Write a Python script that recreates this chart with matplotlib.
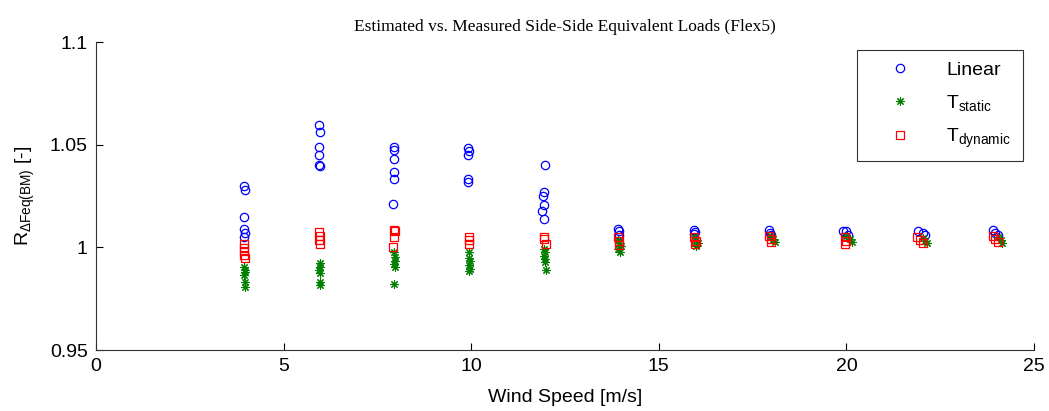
import numpy as np
import matplotlib
matplotlib.use('Agg')
import matplotlib.pyplot as plt

plt.rcParams['font.family'] = 'Liberation Sans'
plt.rcParams['mathtext.fontset'] = 'custom'
plt.rcParams['mathtext.rm'] = 'Liberation Sans'
plt.rcParams['mathtext.it'] = 'Liberation Sans'
plt.rcParams['mathtext.bf'] = 'Liberation Sans:bold'

# Linear estimate
lin_ws = [3.95, 3.97, 3.95, 3.95, 3.96, 3.94,
          5.95, 5.96, 5.95, 5.95, 5.95, 5.96,
          7.93, 7.93, 7.93, 7.95, 7.95, 7.91,
          9.92, 9.93, 9.92, 9.92, 9.92,
          11.97, 11.93, 11.92, 11.93, 11.90, 11.94,
          13.92, 13.95, 13.93,
          15.95, 15.97, 15.93,
          17.93, 17.97, 18.0,
          19.9, 20.0, 20.05,
          21.9, 22.05, 22.1,
          23.92, 23.97, 24.05]
lin_r = [1.0297, 1.0277, 1.0146, 1.0088, 1.0068, 1.0049,
         1.0595, 1.0560, 1.0490, 1.0450, 1.0400, 1.0398,
         1.0490, 1.0475, 1.0430, 1.0365, 1.0335, 1.0210,
         1.0485, 1.0470, 1.0450, 1.0335, 1.0320,
         1.0400, 1.0268, 1.0248, 1.0204, 1.0175, 1.0140,
         1.0088, 1.0078, 1.0060,
         1.0085, 1.0075, 1.0065,
         1.0085, 1.0072, 1.0062,
         1.0082, 1.0078, 1.0062,
         1.0082, 1.0068, 1.0058,
         1.0083, 1.0072, 1.0062]

# T static
sta_ws = [3.95, 3.97, 3.96, 3.95, 3.97, 3.96,
          5.96, 5.97, 5.95, 5.96, 5.97, 5.96,
          7.95, 7.96, 7.97, 7.95, 7.98, 7.93,
          9.95, 9.93, 9.96, 9.94, 9.97, 9.95,
          11.95, 11.97, 11.94, 11.96, 11.98, 11.99,
          13.9, 13.95, 14.0, 13.92, 13.97,
          15.95, 16.0, 16.05, 15.98,
          18.0, 18.05, 18.1,
          20.0, 20.1, 20.15,
          22.05, 22.1, 22.15,
          24.05, 24.12, 24.15]
sta_r = [0.9905, 0.9892, 0.9880, 0.9865, 0.9830, 0.9805,
         0.9925, 0.9905, 0.9890, 0.9875, 0.9830, 0.9815,
         0.9975, 0.9955, 0.9935, 0.9920, 0.9905, 0.9820,
         0.9975, 0.9950, 0.9935, 0.9915, 0.9895, 0.9885,
         0.9990, 0.9975, 0.9960, 0.9945, 0.9930, 0.9890,
         1.0035, 1.0020, 1.0005, 0.9990, 0.9975,
         1.0050, 1.0035, 1.0020, 1.0005,
         1.0055, 1.0040, 1.0025,
         1.0055, 1.0040, 1.0025,
         1.0045, 1.0030, 1.0020,
         1.0050, 1.0035, 1.0020]

# T dynamic
dyn_ws = [3.94, 3.95, 3.94, 3.95, 3.96,
          5.95, 5.96, 5.95, 5.96,
          7.93, 7.96, 7.95, 7.92,
          9.93, 9.94, 9.93,
          11.93, 11.95, 11.99,
          13.92, 13.95, 13.93,
          15.95, 15.98, 15.96,
          17.95, 17.98, 18.0,
          19.95, 20.0, 19.97,
          21.88, 21.97, 22.05,
          23.92, 23.97, 24.03]
dyn_r = [1.0015, 0.9995, 0.9980, 0.9965, 0.9950,
         1.0075, 1.0055, 1.0035, 1.0015,
         1.0085, 1.0078, 1.0048, 1.0000,
         1.0050, 1.0035, 1.0015,
         1.0048, 1.0040, 1.0015,
         1.0050, 1.0030, 1.0010,
         1.0050, 1.0030, 1.0015,
         1.0055, 1.0040, 1.0025,
         1.0050, 1.0030, 1.0015,
         1.0050, 1.0035, 1.0020,
         1.0055, 1.0040, 1.0025]

fig = plt.figure(figsize=(10.49, 4.11), dpi=100)
ax = fig.add_axes([0.0915, 0.1484, 0.8942, 0.7494])

ax.plot(lin_ws, lin_r, 'o', ls='none', mfc='none', mec='b', ms=6, mew=0.9, label='Linear')
ax.plot(sta_ws, sta_r, ls='none', marker=(8, 2, 0), color='g', ms=6, mew=0.8, label='T$_{static}$')
ax.plot(dyn_ws, dyn_r, 's', ls='none', mfc='none', mec='r', ms=6, mew=0.9, label='T$_{dynamic}$')

ax.set_xlim(0, 25)
ax.set_ylim(0.95, 1.1)
ax.set_xticks([0, 5, 10, 15, 20, 25])
ax.set_yticks([0.95, 1.0, 1.05, 1.1])
ax.set_yticklabels(['0.95', '1', '1.05', '1.1'])
ax.tick_params(direction='in', length=5, width=0.8, labelsize=14, top=False, right=False, pad=6)
ax.spines['top'].set_visible(False)
ax.spines['right'].set_visible(False)
for s in ['left', 'bottom']:
    ax.spines[s].set_linewidth(0.8)
    ax.spines[s].set_color('#333333')

ax.set_xlabel('Wind Speed [m/s]', fontsize=14, labelpad=10)
ax.set_ylabel(r'R$_{\Delta \mathrm{Feq(BM)}}$ [-]', fontsize=14, labelpad=9)
ax.set_title('Estimated vs. Measured Side-Side Equivalent Loads (Flex5)',
             fontsize=12.5, family='Liberation Serif', pad=8)

leg = ax.legend(loc='upper right', bbox_to_anchor=(0.988, 0.974), fontsize=14,
                frameon=True, fancybox=False, edgecolor='k', labelspacing=0.7,
                handletextpad=0.8, borderpad=0.6, handlelength=3.2, borderaxespad=0)
leg.get_frame().set_linewidth(0.8)

fig.savefig('out.png', dpi=100)
